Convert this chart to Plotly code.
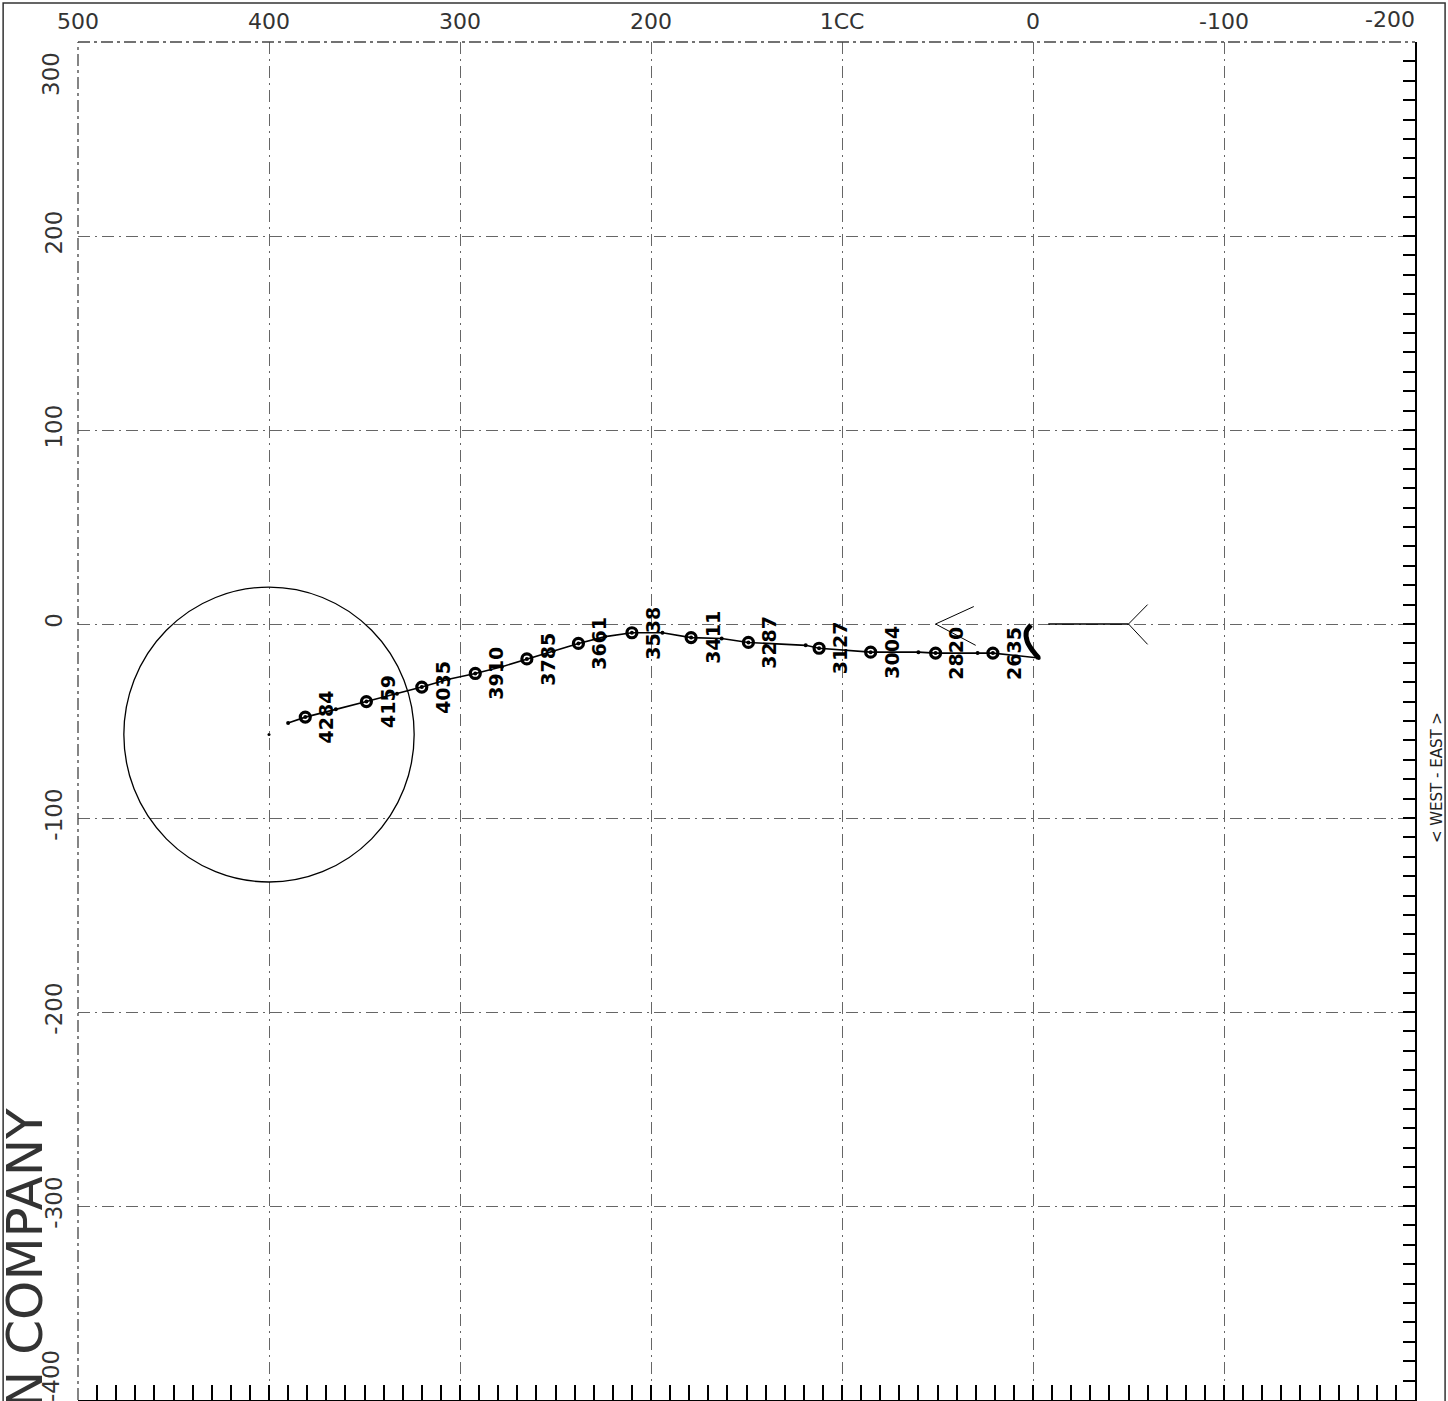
import plotly.graph_objects as go

# ---- data ----
x_ticks = [500, 400, 300, 200, 100, 0, -100, -200]
x_tick_text = ["500", "400", "300", "200", "1CC", "0", "-100", ""]
y_ticks = [300, 200, 100, 0, -100, -200, -300, -400]
y_tick_text = ["", "200", "100", "0", "-100", "-200", "-300", ""]

station_md = ["2635", "2820", "3004", "3127", "3287", "3411", "3538",
              "3661", "3785", "3910", "4035", "4159", "4284"]
station_ew = [21, 51, 85, 112, 149, 179, 210, 238, 265, 292, 320, 349, 381]
station_ns = [-15, -15, -14.5, -12.5, -9.5, -7, -4.5, -10, -18, -25.5, -32.5, -40, -48]

tophole_ew = [1, 3.5, 3, 0, -3]
tophole_ns = [-0.5, -4, -9, -14, -17.5]

path_ew = [-3, 21, 29, 51, 60, 85, 112, 119, 149, 163, 179, 194, 210, 224,
           238, 251, 265, 278, 292, 306, 320, 333, 349, 365, 381, 390]
path_ns = [-17.5, -15, -15, -15, -14.5, -14.5, -12.5, -11, -9.5, -7.5, -7, -4.5,
           -4.5, -6.5, -10, -14, -18, -22, -25.5, -28.5, -32.5, -36, -40, -44, -48, -51]

target_ew = [400]
target_ns = [-57]
target_radius = 76

arrow1_ew = [31, 51, 30]
arrow1_ns = [9, 0, -11]
arrow2_ew = [-60, -50, -60]
arrow2_ns = [10, 0, -10.5]
north_ew = [-8, -50]
north_ns = [0, 0]

x_range = [500, -200]
y_range = [-400, 300]

TICK_FONT = dict(family="DejaVu Sans", size=22, color="#333")
YTICK_FONT = dict(family="DejaVu Sans", size=23, color="#333")

# ---- figure ----
fig = go.Figure()

fig.add_trace(go.Scatter(x=north_ew, y=north_ns, mode="lines",
                         line=dict(color="black", width=1.5), hoverinfo="skip"))
fig.add_trace(go.Scatter(x=arrow1_ew, y=arrow1_ns, mode="lines",
                         line=dict(color="black", width=1), hoverinfo="skip"))
fig.add_trace(go.Scatter(x=arrow2_ew, y=arrow2_ns, mode="lines",
                         line=dict(color="black", width=1), hoverinfo="skip"))
fig.add_trace(go.Scatter(x=tophole_ew, y=tophole_ns, mode="lines",
                         line=dict(color="black", width=5, shape="spline"), hoverinfo="skip"))
fig.add_trace(go.Scatter(x=path_ew, y=path_ns, mode="lines+markers",
                         line=dict(color="black", width=1.6),
                         marker=dict(color="black", size=4), hoverinfo="skip"))
fig.add_trace(go.Scatter(x=station_ew, y=station_ns, mode="markers",
                         marker=dict(symbol="circle-open", color="black", size=10,
                                     line=dict(width=3.2, color="black")),
                         hoverinfo="skip"))
fig.add_trace(go.Scatter(x=target_ew, y=target_ns, mode="markers",
                         marker=dict(color="black", size=3),
                         xaxis="x2", yaxis="y2", hoverinfo="skip"))

# target circle
fig.add_shape(type="circle", xref="x", yref="y",
              x0=target_ew[0] - target_radius, x1=target_ew[0] + target_radius,
              y0=target_ns[0] - target_radius, y1=target_ns[0] + target_radius,
              line=dict(color="black", width=1.3))

# station labels
for md, xe, yn in zip(station_md, station_ew, station_ns):
    fig.add_annotation(x=xe, y=yn, xref="x", yref="y", text=md, showarrow=False,
                       textangle=-90, xshift=21, xanchor="center", yanchor="middle",
                       font=dict(family="DejaVu Sans", size=19, color="black",
                                 weight="bold"))

# edge tick labels shifted inward (as on the reference)
fig.add_annotation(x=-200, y=1, xref="x", yref="paper", text="-200", showarrow=False,
                   xanchor="center", yanchor="bottom", yshift=8, xshift=-25,
                   font=TICK_FONT)
fig.add_annotation(x=0, y=300, xref="paper", yref="y", text="300", showarrow=False,
                   textangle=-90, xanchor="right", yanchor="middle", xshift=-12, yshift=-32,
                   font=YTICK_FONT)
fig.add_annotation(x=0, y=-400, xref="paper", yref="y", text="-400", showarrow=False,
                   textangle=-90, xanchor="right", yanchor="middle", xshift=-12, yshift=24,
                   font=YTICK_FONT)

# side texts
fig.add_annotation(x=-0.0395, y=0.1046, xref="paper", yref="paper", text="N COMPANY",
                   showarrow=False, textangle=-90, xanchor="center", yanchor="middle",
                   font=dict(family="DejaVu Sans", size=50, color="#333"))
fig.add_annotation(x=1.0165, y=0.458, xref="paper", yref="paper", text="< WEST - EAST >",
                   showarrow=False, textangle=-90, xanchor="center", yanchor="middle",
                   font=dict(family="DejaVu Sans", size=15, color="#222"))

# outer border
fig.add_shape(type="rect", xref="paper", yref="paper",
              x0=-0.056, x1=1.0225, y0=-0.01, y1=1.0287,
              line=dict(color="#333", width=1.5))
# dashed top and left frame edges
fig.add_shape(type="line", xref="paper", yref="paper", x0=0, x1=1, y0=1, y1=1,
              line=dict(color="#444", width=1.3, dash="12px,4px,3px,4px"))
fig.add_shape(type="line", xref="paper", yref="paper", x0=0, x1=0, y0=0, y1=1,
              line=dict(color="#444", width=1.3, dash="12px,4px,3px,4px"))

grid_common = dict(showgrid=True, gridcolor="#666", gridwidth=1,
                   griddash="12px,5px,2px,5px", zeroline=False)

fig.update_layout(
    width=1448, height=1401,
    margin=dict(l=78, r=33, t=42, b=1),
    paper_bgcolor="white", plot_bgcolor="white",
    showlegend=False,
    xaxis=dict(range=x_range, side="top", tickmode="array", tickvals=x_ticks,
               ticktext=x_tick_text, ticks="", showline=False, ticklabelstandoff=8,
               tickfont=TICK_FONT, **grid_common),
    yaxis=dict(range=y_range, tickmode="array", tickvals=y_ticks, ticktext=y_tick_text,
               ticks="", showline=False, tickangle=-90, ticklabelstandoff=10,
               tickfont=YTICK_FONT, **grid_common),
    xaxis2=dict(range=x_range, overlaying="x", side="bottom", showgrid=False,
                zeroline=False, showline=True, linecolor="black", linewidth=2,
                ticks="inside", tickmode="linear", tick0=0, dtick=10, ticklen=15,
                tickwidth=1.5, tickcolor="black", showticklabels=False),
    yaxis2=dict(range=y_range, overlaying="y", side="right", showgrid=False,
                zeroline=False, showline=True, linecolor="black", linewidth=2,
                ticks="inside", tickmode="linear", tick0=0, dtick=10, ticklen=12,
                tickwidth=1.5, tickcolor="black", showticklabels=False),
)

fig.write_html("out.html", config={"displayModeBar": False})

# remove the default page margin so the figure fills the window exactly
with open("out.html", "r", encoding="utf-8") as f:
    html = f.read()
html = html.replace("<body>", '<body style="margin:0;overflow:hidden">', 1)
with open("out.html", "w", encoding="utf-8") as f:
    f.write(html)
